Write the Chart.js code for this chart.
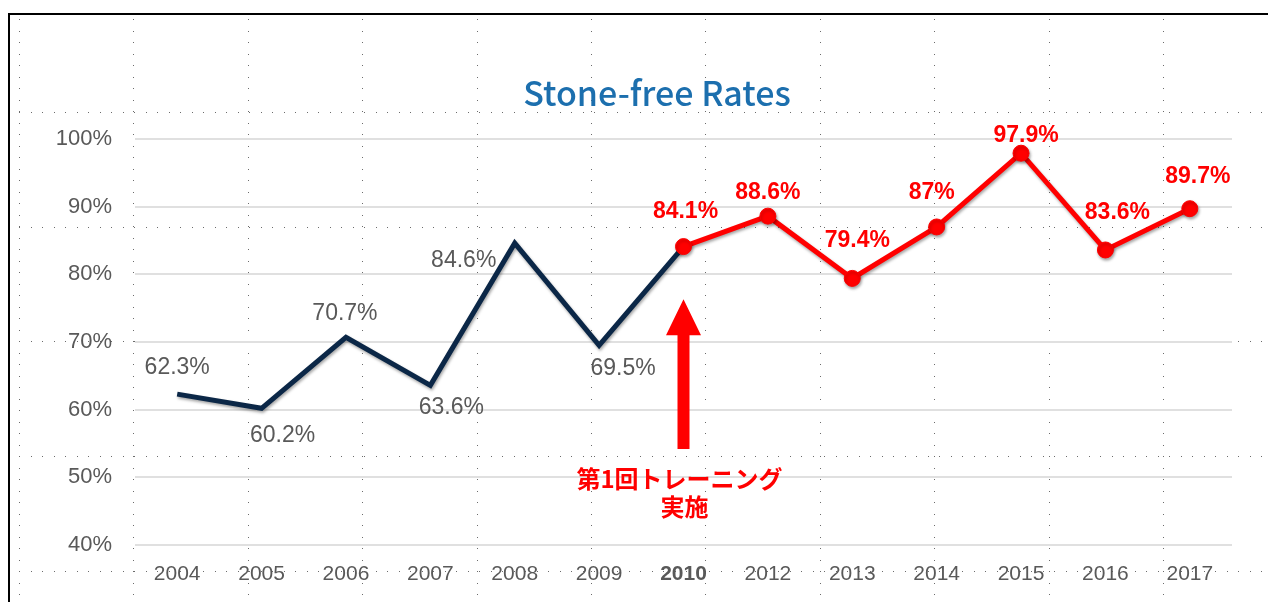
<!DOCTYPE html>
<html>
<head>
<meta charset="utf-8">
<script src="https://cdn.jsdelivr.net/npm/chart.js@4"></script>
<style>
    html, body { margin: 0; padding: 0; background: #fff; }
    #wrap { width: 1268px; height: 602px; position: relative; }
</style>
</head>
<body>
<div id="wrap"><canvas id="chart"></canvas></div>
<script>
(function () {
    "use strict";

    // Data
    const years = ["2004", "2005", "2006", "2007", "2008", "2009", "2010", "2012", "2013", "2014", "2015", "2016", "2017"];
    const beforeRates = [62.3, 60.2, 70.7, 63.6, 84.6, 69.5, 84.1, null, null, null, null, null, null];
    const afterRates = [null, null, null, null, null, null, 84.1, 88.6, 79.4, 87, 97.9, 83.6, 89.7];
    const yTicks = [40, 50, 60, 70, 80, 90, 100];
    const titleText = "Stone-free Rates";
    const noteLines = ["第1回トレーニング", "実施"];

    // label placement (offset of label centre from the point)
    const beforeLabelPos = [[0, -26], [21, 27], [-1, -24], [21, 22], [-51, 17], [24, 23], null];
    const afterLabelPos = [null, null, null, null, null, null, [2, -35], [0, -23], [5, -38], [-5, -34], [5, -18], [12, -37], [8, -32]];

    const NAVY = "#0b2747";
    const RED = "#ff0000";
    const GREY = "#595959";

    // background: frame + dotted guides
    const backdrop = {
        id: "backdrop",
        beforeDraw(chart) {
            const c = chart.ctx;
            const w = chart.width, h = chart.height;
            c.save();
            c.fillStyle = "#fff";
            c.fillRect(0, 0, w, h);
            c.fillStyle = "#6b6b6b";
            for (let x = 19; x < w; x += 114.4) {
                for (let y = 19; y < h; y += 11.5) c.fillRect(Math.round(x), Math.round(y), 1, 1);
            }
            for (let y = 112; y < h; y += 114.7) {
                for (let x = 19; x < w; x += 11.5) c.fillRect(Math.round(x), Math.round(y), 1, 1);
            }
            c.fillStyle = "#000";
            c.fillRect(8, 13, w - 8, 2);
            c.fillRect(8, 13, 2, h - 13);
            c.restore();
        },
    };

    // soft shadow under the lines
    const lineShadow = {
        id: "lineShadow",
        beforeDatasetDraw(chart) {
            const c = chart.ctx;
            c.save();
            c.shadowColor = "rgba(0,0,0,0.35)";
            c.shadowBlur = 3;
            c.shadowOffsetX = 1;
            c.shadowOffsetY = 2;
        },
        afterDatasetDraw(chart) {
            chart.ctx.restore();
        },
    };

    // title, value labels, arrow and note
    const extras = {
        id: "extras",
        afterDatasetsDraw(chart) {
            const c = chart.ctx;
            const xs = chart.scales.x, ys = chart.scales.y;
            c.save();
            c.textAlign = "center";
            c.textBaseline = "middle";

            c.fillStyle = "#1c6fae";
            c.font = "500 34px 'Noto Sans CJK JP', 'Noto Sans', sans-serif";
            c.fillText(titleText, 657, 93);

            chart.data.datasets.forEach((ds, di) => {
                const meta = chart.getDatasetMeta(di);
                ds.data.forEach((v, i) => {
                    const pos = ds.labelPos[i];
                    if (v === null || !pos) return;
                    const pt = meta.data[i];
                    c.fillStyle = ds.labelColor;
                    c.font = ds.labelFont;
                    c.fillText(v + "%", pt.x + pos[0], pt.y + pos[1]);
                });
            });

            // arrow under 2010
            const ax = xs.getPixelForValue(6);
            const tip = ys.getPixelForValue(76.3);
            const neck = ys.getPixelForValue(71);
            const tail = ys.getPixelForValue(54.2);
            c.fillStyle = RED;
            c.beginPath();
            c.moveTo(ax, tip);
            c.lineTo(ax + 17.5, neck);
            c.lineTo(ax + 6, neck);
            c.lineTo(ax + 6, tail);
            c.lineTo(ax - 6, tail);
            c.lineTo(ax - 6, neck);
            c.lineTo(ax - 17.5, neck);
            c.closePath();
            c.fill();

            c.font = "bold 24px 'Noto Sans CJK JP', sans-serif";
            c.fillText(noteLines[0], ax - 4, ys.getPixelForValue(49.7));
            c.fillText(noteLines[1], ax + 1, ys.getPixelForValue(45.7));
            c.restore();
        },
    };

    const ctx = document.getElementById("chart").getContext("2d");
    new Chart(ctx, {
        type: "line",
        data: {
            labels: years,
            datasets: [
                {
                    label: "before",
                    data: beforeRates,
                    labelPos: beforeLabelPos,
                    labelColor: GREY,
                    labelFont: "23px 'Liberation Sans', Arial, sans-serif",
                    borderColor: NAVY,
                    borderWidth: 5,
                    pointRadius: 0,
                    pointHoverRadius: 0,
                    spanGaps: false,
                    order: 2,
                },
                {
                    label: "after",
                    data: afterRates,
                    labelPos: afterLabelPos,
                    labelColor: RED,
                    labelFont: "bold 23px 'Liberation Sans', Arial, sans-serif",
                    borderColor: RED,
                    backgroundColor: RED,
                    borderWidth: 5,
                    pointRadius: 8,
                    pointBorderWidth: 1,
                    pointBorderColor: RED,
                    pointBackgroundColor: RED,
                    order: 1,
                },
            ],
        },
        options: {
            responsive: true,
            maintainAspectRatio: false,
            animation: false,
            layout: {
                padding: { left: 0, top: 139, right: 36, bottom: 0 },
            },
            plugins: {
                legend: { display: false },
                title: { display: false },
                tooltip: { enabled: false },
            },
            scales: {
                x: {
                    offset: true,
                    afterFit(scale) {
                        scale.height = 57;
                    },
                    grid: { display: false, drawTicks: false },
                    border: { display: false },
                    ticks: {
                        padding: 17,
                        color: GREY,
                        font: (c) => ({
                            family: "'Liberation Sans', Arial, sans-serif",
                            size: 21,
                            weight: c.index === 6 ? "bold" : "normal",
                        }),
                    },
                },
                y: {
                    min: yTicks[0],
                    max: yTicks[yTicks.length - 1],
                    afterFit(scale) {
                        scale.width = 135;
                    },
                    afterBuildTicks(scale) {
                        scale.ticks = yTicks.map((v) => ({ value: v }));
                    },
                    grid: { color: "#e0e0e0", lineWidth: 2, drawTicks: false },
                    border: { display: false },
                    ticks: {
                        padding: 23,
                        color: GREY,
                        font: { family: "'Liberation Sans', Arial, sans-serif", size: 22 },
                        callback: (v) => v + "%",
                    },
                },
            },
        },
        plugins: [backdrop, lineShadow, extras],
    });
})();
</script>
</body>
</html>
